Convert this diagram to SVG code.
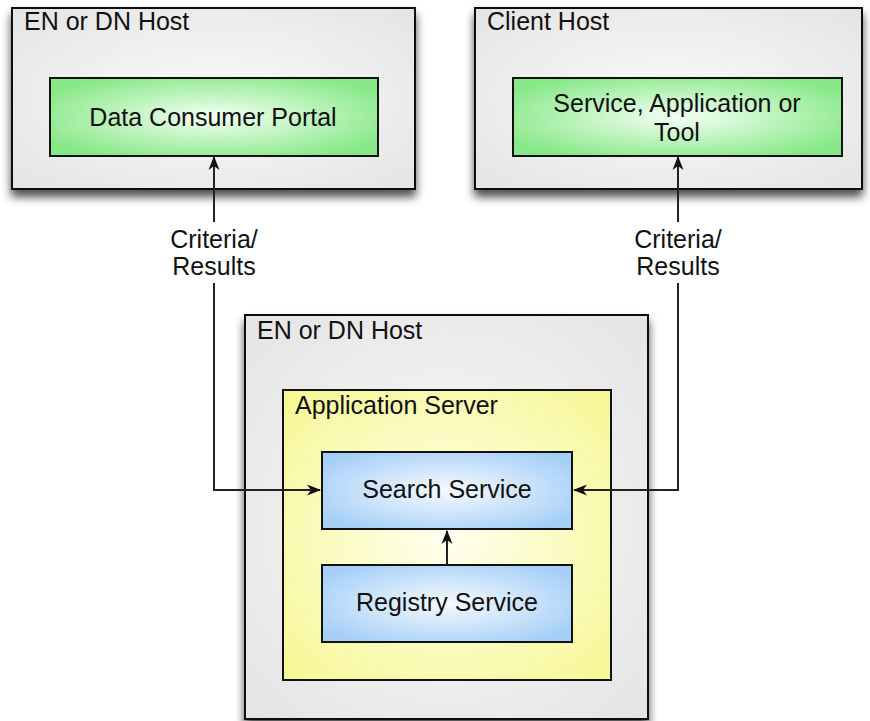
<svg xmlns="http://www.w3.org/2000/svg" width="870" height="721" viewBox="0 0 870 721">
<defs>
<radialGradient id="gGray" cx="0.5" cy="0.5" r="0.7"><stop offset="0" stop-color="#fafafa"/><stop offset="1" stop-color="#e4e4e4"/></radialGradient>
<radialGradient id="gGreen" cx="0.5" cy="0.5" r="0.6"><stop offset="0" stop-color="#f4fff4"/><stop offset="1" stop-color="#86e886"/></radialGradient>
<radialGradient id="gYellow" cx="0.5" cy="0.5" r="0.7"><stop offset="0" stop-color="#fffff0"/><stop offset="1" stop-color="#f7f794"/></radialGradient>
<radialGradient id="gBlue" cx="0.5" cy="0.5" r="0.6"><stop offset="0" stop-color="#f5faff"/><stop offset="1" stop-color="#a6cff7"/></radialGradient>
<filter id="sh" x="-10%" y="-10%" width="120%" height="130%"><feGaussianBlur in="SourceAlpha" stdDeviation="5"/><feOffset dx="0" dy="7" result="b"/><feComponentTransfer><feFuncA type="linear" slope="0.7"/></feComponentTransfer><feMerge><feMergeNode/><feMergeNode in="SourceGraphic"/></feMerge></filter>
<marker id="ah" viewBox="0 0 14 12" refX="13" refY="6" markerWidth="14" markerHeight="12" markerUnits="userSpaceOnUse" orient="auto"><path d="M0,0.5 L14,6 L0,11.5 L4,6 Z" fill="#111"/></marker>
</defs>
<style>
text{font-family:"Liberation Sans",Arial,sans-serif;font-size:25px;fill:#111}
.c{text-anchor:middle}
.host{fill:url(#gGray);stroke:#111;stroke-width:2;filter:url(#sh)}
.grn{fill:url(#gGreen);stroke:#111;stroke-width:2}
.yel{fill:url(#gYellow);stroke:#111;stroke-width:2}
.blu{fill:url(#gBlue);stroke:#111;stroke-width:2}
.ln{fill:none;stroke:#222;stroke-width:2;marker-end:url(#ah)}
</style>
<rect width="870" height="721" fill="#fff"/>
<g id="host1">
<rect class="host" x="12" y="8" width="403" height="181"/>
<text x="24" y="30">EN or DN Host</text>
</g>
<g id="portal">
<rect class="grn" x="50" y="78" width="328" height="78"/>
<text class="c" x="213" y="126">Data Consumer Portal</text>
</g>
<g id="host2">
<rect class="host" x="475" y="8" width="387" height="181"/>
<text x="487" y="30">Client Host</text>
</g>
<g id="tool">
<rect class="grn" x="513" y="78" width="329" height="78"/>
<text class="c" x="677" y="112">Service, Application or</text>
<text class="c" x="677" y="141">Tool</text>
</g>
<g id="host3">
<rect class="host" x="245" y="315" width="403" height="404"/>
<text x="257" y="339">EN or DN Host</text>
</g>
<g id="appserver">
<rect class="yel" x="283" y="390" width="328" height="290"/>
<text x="295" y="414">Application Server</text>
</g>
<g id="search">
<rect class="blu" x="322" y="452" width="250" height="77"/>
<text class="c" x="447" y="498">Search Service</text>
</g>
<g id="registry">
<rect class="blu" x="322" y="565" width="250" height="77"/>
<text class="c" x="447" y="611">Registry Service</text>
</g>
<g id="connectors">
<polyline class="ln" points="214,222 214,157"/>
<polyline class="ln" points="214,283 214,490 320,490"/>
<text class="c" x="214" y="248">Criteria/</text>
<text class="c" x="214" y="275">Results</text>
<polyline class="ln" points="678,222 678,157"/>
<polyline class="ln" points="678,283 678,490 574,490"/>
<text class="c" x="678" y="248">Criteria/</text>
<text class="c" x="678" y="275">Results</text>
<polyline class="ln" points="447,565 447,531"/>
</g>
</svg>
